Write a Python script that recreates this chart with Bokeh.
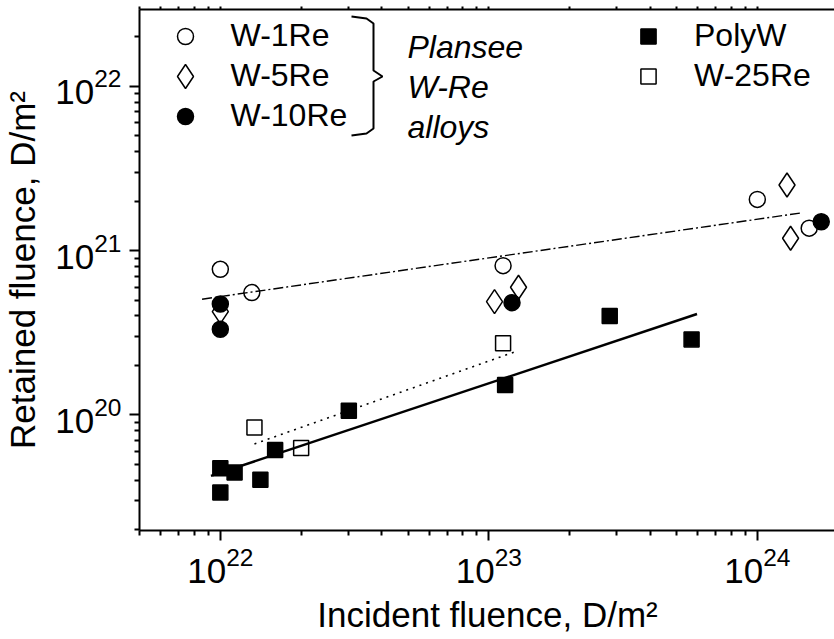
import numpy as np
from bokeh.plotting import figure
from bokeh.models import (LogAxis, FixedTicker, Legend, LegendItem, Label,
                          PolyAnnotation)
from bokeh.embed import file_html
from bokeh.resources import INLINE

# ---- data ----
w1re_x = [1.0e22, 1.31e22, 1.13e23, 1.0e24, 1.56e24]
w1re_y = [7.7e20, 5.55e20, 8.1e20, 2.05e21, 1.37e21]
w5re_x = [1.0e22, 1.05e23, 1.29e23, 1.29e24, 1.33e24]
w5re_y = [4.25e20, 4.89e20, 5.98e20, 2.51e21, 1.19e21]
w10re_x = [1.0e22, 1.0e22, 1.22e23, 1.73e24]
w10re_y = [4.73e20, 3.32e20, 4.82e20, 1.50e21]
polyw_x = [1.0e22, 1.0e22, 1.13e22, 1.41e22, 1.60e22, 3.01e22, 1.15e23, 2.82e23, 5.69e23]
polyw_y = [4.73e19, 3.36e19, 4.45e19, 4.02e19, 6.11e19, 1.06e20, 1.52e20, 4.0e20, 2.88e20]
w25re_x = [1.34e22, 2.0e22, 1.13e23]
w25re_y = [8.36e19, 6.27e19, 2.73e20]

# fitted trend lines (end points)
alloy_fit_x = [8.55e21, 1.47e24]
alloy_fit_y = [5.06e20, 1.70e21]
polyw_fit_x = [9.23e21, 5.96e23]
polyw_fit_y = [4.25e19, 4.11e20]
w25re_fit_x = [1.34e22, 1.26e23]
w25re_fit_y = [6.65e19, 2.43e20]

x_major = [1e22, 1e23, 1e24]
y_major = [1e20, 1e21, 1e22]

FONT = "Liberation Sans"

p = figure(x_axis_type="log", y_axis_type="log",
           x_range=(5.0e21, 1.955e24), y_range=(1.975e19, 2.94e22),
           frame_width=696, frame_height=521,
           min_border_left=138, min_border_right=0, min_border_top=9,
           min_border_bottom=109,
           output_backend="svg", toolbar_location=None)
p.outline_line_color = None
p.grid.visible = False
p.background_fill_color = "white"

def minor_list(majors):
    out = []
    for m in [majors[0] / 10] + majors:
        out += [m * k for k in range(2, 10)]
    return out

def style_axis(ax):
    ax.axis_line_width = 2
    ax.major_tick_line_width = 2
    ax.minor_tick_line_width = 2
    ax.major_tick_out = 10
    ax.major_tick_in = 0
    ax.minor_tick_out = 5
    ax.minor_tick_in = 0
    ax.major_label_text_font = FONT
    ax.major_label_text_font_size = "35px"
    ax.major_label_text_color = "black"
    ax.axis_label_text_font = FONT
    ax.axis_label_text_font_size = "35px"
    ax.axis_label_text_font_style = "normal"
    ax.axis_label_text_color = "black"

xax = p.xaxis[0]
yax = p.yaxis[0]
xax.ticker = FixedTicker(ticks=x_major, minor_ticks=minor_list(x_major))
yax.ticker = FixedTicker(ticks=y_major, minor_ticks=minor_list(y_major))
style_axis(xax)
style_axis(yax)
xax.axis_label = "Incident fluence, D/m\u00b2"
yax.axis_label = "Retained fluence, D/m\u00b2"
xax.major_label_standoff = 6
yax.major_label_standoff = 8
xax.axis_label_standoff = 9
yax.axis_label_standoff = 10

top = LogAxis(ticker=FixedTicker(ticks=x_major, minor_ticks=minor_list(x_major)))
style_axis(top)
top.major_tick_out = 3
top.minor_tick_out = 3
top.major_label_text_font_size = "1px"
top.major_label_text_alpha = 0
top.major_label_standoff = 0
p.add_layout(top, "above")

# fit lines
p.line(alloy_fit_x, alloy_fit_y, line_color="black", line_width=1.4, line_dash="10 3 2 3")
p.line(w25re_fit_x, w25re_fit_y, line_color="black", line_width=1.6, line_dash="2 5")
p.line(polyw_fit_x, polyw_fit_y, line_color="black", line_width=2.5)

# markers
r_poly = p.scatter(polyw_x, polyw_y, marker="square", size=15, fill_color="black", line_color="black", line_width=1.5)
r_w25 = p.scatter(w25re_x, w25re_y, marker="square", size=15, fill_color=None, line_color="black", line_width=1.5)
r_w5 = p.scatter(w5re_x, w5re_y, marker="diamond", size=24, fill_color=None, line_color="black", line_width=1.5)
r_w1 = p.scatter(w1re_x, w1re_y, marker="circle", size=16, fill_color=None, line_color="black", line_width=1.5)
r_w10 = p.scatter(w10re_x, w10re_y, marker="circle", size=16, fill_color="black", line_color="black", line_width=1.5)

# legend: one row per Legend so each marker keeps its own size
def legend_row(label, renderer, cx, cy, box):
    # cx, cy: marker centre in frame pixels (from frame left / frame bottom)
    lg = Legend(items=[LegendItem(label=label, renderers=[renderer])],
                location=(cx - box / 2, cy - box / 2), orientation="vertical",
                glyph_width=box, glyph_height=box, label_standoff=int(46 - box / 2),
                spacing=0, padding=0, margin=0,
                label_text_font=FONT, label_text_font_size="32px",
                label_text_color="black", label_height=box,
                border_line_color=None, background_fill_alpha=0)
    p.add_layout(lg)

legend_row("W-1Re", r_w1, 45.5, 494.5, 40)
legend_row("W-5Re", r_w5, 45.5, 454.5, 60)
legend_row("W-10Re", r_w10, 45.5, 414.5, 40)
legend_row("PolyW", r_poly, 509, 494.5, 38)
legend_row("W-25Re", r_w25, 509, 454.5, 38)

# bracket and group text (legend decoration, frame-relative pixels)
br_x = [212, 227, 234, 234, 243, 234, 234, 227, 212]
br_y = [514, 512, 507, 460, 454, 449, 402, 397, 395]
p.add_layout(PolyAnnotation(xs=br_x + br_x[-2::-1], ys=br_y + br_y[-2::-1],
                            xs_units="screen", ys_units="screen",
                            fill_color=None, fill_alpha=0,
                            line_color="black", line_alpha=1.0, line_width=2))
for txt, yy in [("Plansee", 484), ("W-Re", 444), ("alloys", 404)]:
    p.add_layout(Label(x=268, y=yy, x_units="screen", y_units="screen", text=txt,
                       text_font=FONT, text_font_size="32px", text_font_style="italic",
                       text_color="black", text_baseline="alphabetic"))

open("out.html", "w").write(file_html(p, INLINE))
